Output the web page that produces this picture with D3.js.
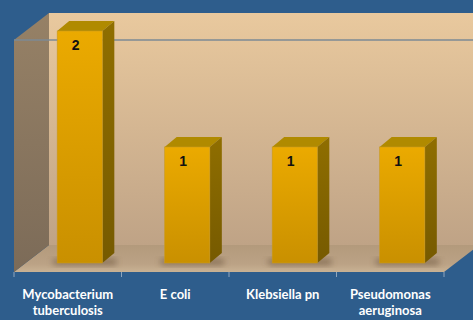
<!DOCTYPE html>
<html>
<head>
<meta charset="utf-8">
<script src="https://cdnjs.cloudflare.com/ajax/libs/d3/7.8.5/d3.min.js"></script>
<style>
  body { margin: 0; background: #2E5D8C; }
  svg { display: block; }
</style>
</head>
<body>
<div id="chart"></div>
<script>
// chart data
var categories = ["Mycobacterium tuberculosis", "E coli", "Klebsiella pn", "Pseudomonas aeruginosa"];
var labelLines = [["Mycobacterium", "tuberculosis"], ["E coli"], ["Klebsiella pn"], ["Pseudomonas", "aeruginosa"]];
var counts = [2, 1, 1, 1];
var gridValues = [2];

var W = 473, H = 320;
var depthX = 35, depthY = -27;   // wall depth
var barOx = 12, barOy = -9;      // bars sit part way into the box
var barDx = 12, barDy = -10;     // bar thickness

var svg = d3.select("#chart").append("svg")
    .attr("width", W)
    .attr("height", H);

var x = d3.scaleBand()
    .domain(categories)
    .range([14, 444])
    .paddingInner(0.58)
    .paddingOuter(0.29);

var xTick = d3.scaleBand()
    .domain(categories)
    .range([14, 444]);

var y = d3.scaleLinear()
    .domain([0, 2])
    .range([272, 40]);

var defs = svg.append("defs");

var g1 = defs.append("linearGradient").attr("id", "backwall")
    .attr("x1", 0).attr("y1", 0).attr("x2", 0).attr("y2", 1);
g1.append("stop").attr("offset", "0%").attr("stop-color", "#E9C99E");
g1.append("stop").attr("offset", "100%").attr("stop-color", "#BFA386");

var g2 = defs.append("linearGradient").attr("id", "sidewall")
    .attr("x1", 0).attr("y1", 0).attr("x2", 0).attr("y2", 1);
g2.append("stop").attr("offset", "0%").attr("stop-color", "#968166");
g2.append("stop").attr("offset", "100%").attr("stop-color", "#7C6B58");

var g3 = defs.append("linearGradient").attr("id", "floor")
    .attr("x1", 0).attr("y1", 0).attr("x2", 0).attr("y2", 1);
g3.append("stop").attr("offset", "0%").attr("stop-color", "#B39A7C");
g3.append("stop").attr("offset", "70%").attr("stop-color", "#BBA285");
g3.append("stop").attr("offset", "100%").attr("stop-color", "#C9B294");

var g4 = defs.append("linearGradient").attr("id", "barfront")
    .attr("x1", 0).attr("y1", 0).attr("x2", 0).attr("y2", 1);
g4.append("stop").attr("offset", "0%").attr("stop-color", "#EBAA00");
g4.append("stop").attr("offset", "100%").attr("stop-color", "#C99000");

var g5 = defs.append("linearGradient").attr("id", "barside")
    .attr("x1", 0).attr("y1", 0).attr("x2", 0).attr("y2", 1);
g5.append("stop").attr("offset", "0%").attr("stop-color", "#8F6E00");
g5.append("stop").attr("offset", "100%").attr("stop-color", "#765A00");

defs.append("filter").attr("id", "blur")
    .attr("x", "-50%").attr("y", "-50%").attr("width", "200%").attr("height", "200%")
    .append("feGaussianBlur").attr("stdDeviation", 3);

var x0 = 14, x1 = W + 20;
var yTop = y(2), yBase = y(0);

// back wall
svg.append("path")
    .attr("d", "M" + (x0 + depthX) + "," + (yTop + depthY) +
               "L" + x1 + "," + (yTop + depthY) +
               "L" + x1 + "," + (yBase + depthY) +
               "L" + (x0 + depthX) + "," + (yBase + depthY) + "Z")
    .attr("fill", "url(#backwall)");

// floor
svg.append("path")
    .attr("d", "M" + x0 + "," + yBase +
               "L" + (x0 + depthX) + "," + (yBase + depthY) +
               "L" + (444 + depthX) + "," + (yBase + depthY) +
               "L" + 444 + "," + yBase + "Z")
    .attr("fill", "url(#floor)");

// left side wall
svg.append("path")
    .attr("d", "M" + x0 + "," + yTop +
               "L" + (x0 + depthX) + "," + (yTop + depthY) +
               "L" + (x0 + depthX) + "," + (yBase + depthY) +
               "L" + x0 + "," + yBase + "Z")
    .attr("fill", "url(#sidewall)");

// gridline
svg.selectAll(".grid")
    .data(gridValues)
    .enter().append("line")
    .attr("class", "grid")
    .attr("x1", x0)
    .attr("x2", W)
    .attr("y1", function(d) { return y(d); })
    .attr("y2", function(d) { return y(d); })
    .attr("stroke", "#7D8A94")
    .attr("stroke-width", 1.5);

// category ticks
var ticks = categories.map(function(c) { return xTick(c); }).concat([444]);
svg.selectAll(".tick")
    .data(ticks)
    .enter().append("line")
    .attr("class", "tick")
    .attr("x1", function(d) { return d; })
    .attr("x2", function(d) { return d; })
    .attr("y1", yBase)
    .attr("y2", yBase + 5)
    .attr("stroke", "#8FA6BE")
    .attr("stroke-width", 1);

var bw = x.bandwidth();

var bars = svg.selectAll(".bar")
    .data(counts)
    .enter().append("g")
    .attr("class", "bar");

// shadow on floor
bars.append("rect")
    .attr("x", function(d, i) { return x(categories[i]) + barOx - 4; })
    .attr("y", y(0) + barOy - 4)
    .attr("width", bw + barDx + 6)
    .attr("height", 6)
    .attr("fill", "#5E4A33")
    .attr("opacity", 0.55)
    .attr("filter", "url(#blur)");

// top face
bars.append("path")
    .attr("d", function(d, i) {
        var l = x(categories[i]) + barOx, t = y(d) + barOy;
        return "M" + l + "," + t + "L" + (l + barDx) + "," + (t + barDy) +
               "L" + (l + bw + barDx) + "," + (t + barDy) + "L" + (l + bw) + "," + t + "Z";
    })
    .attr("fill", "#B08A00");

// side face
bars.append("path")
    .attr("d", function(d, i) {
        var r = x(categories[i]) + barOx + bw, t = y(d) + barOy, b = y(0) + barOy;
        return "M" + r + "," + t + "L" + (r + barDx) + "," + (t + barDy) +
               "L" + (r + barDx) + "," + (b + barDy) + "L" + r + "," + b + "Z";
    })
    .attr("fill", "url(#barside)");

// front face
bars.append("rect")
    .attr("x", function(d, i) { return x(categories[i]) + barOx; })
    .attr("y", function(d) { return y(d) + barOy; })
    .attr("width", bw)
    .attr("height", function(d) { return y(0) - y(d); })
    .attr("fill", "url(#barfront)")
    .attr("stroke", "#C89A20")
    .attr("stroke-width", 0.6);

// value labels
bars.append("text")
    .attr("x", function(d, i) { return x(categories[i]) + barOx + bw / 2 - 4; })
    .attr("y", function(d) { return y(d) + barOy + 19; })
    .attr("text-anchor", "middle")
    .attr("font-family", "Liberation Sans, Arial, sans-serif")
    .attr("font-weight", "bold")
    .attr("font-size", 14)
    .attr("fill", "#111")
    .text(function(d) { return d; });

// category labels
var labels = svg.selectAll(".cat")
    .data(categories)
    .enter().append("text")
    .attr("class", "cat")
    .attr("x", function(d) { return xTick(d) + xTick.bandwidth() / 2; })
    .attr("y", 299)
    .attr("text-anchor", "middle")
    .attr("font-family", "Lato, sans-serif")
    .attr("font-weight", "bold")
    .attr("font-size", 13)
    .attr("fill", "#FFFFFF");

labels.each(function(d, i) {
    var t = d3.select(this);
    labelLines[i].forEach(function(line, j) {
        t.append("tspan")
            .attr("x", xTick(d) + xTick.bandwidth() / 2)
            .attr("dy", j === 0 ? 0 : 15.5)
            .text(line);
    });
});
</script>
</body>
</html>
